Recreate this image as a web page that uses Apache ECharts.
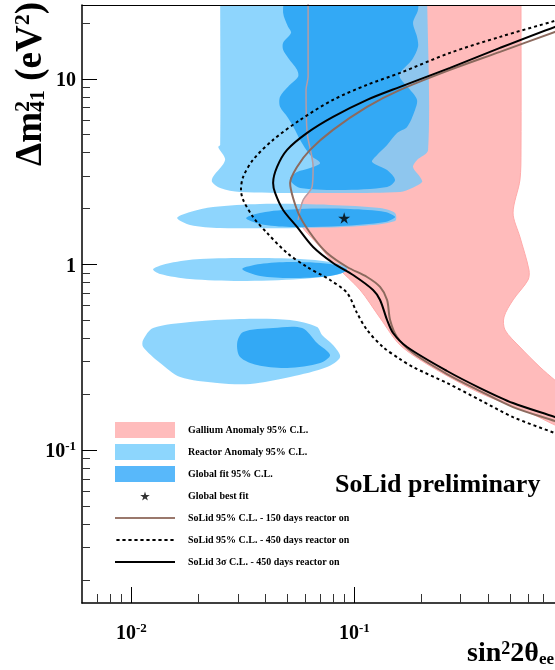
<!DOCTYPE html>
<html><head><meta charset="utf-8">
<script src="https://cdn.jsdelivr.net/npm/echarts@6/dist/echarts.min.js"></script>
<style>html,body{margin:0;padding:0;background:#fff}#c{width:555px;height:670px}</style>
</head><body><div id="c"></div>
<script>
// ---------- axis ticks ----------
const X_MAJOR = [0.01, 0.1];
const X_MINOR = [0.007, 0.008, 0.009, 0.02, 0.03, 0.04, 0.05, 0.06, 0.07, 0.08, 0.09, 0.2, 0.3, 0.4, 0.5, 0.6, 0.7];
const Y_MAJOR = [0.1, 1, 10];
const Y_MINOR = [0.02, 0.03, 0.04, 0.05, 0.06, 0.07, 0.08, 0.09, 0.2, 0.3, 0.4, 0.5, 0.6, 0.7, 0.8, 0.9, 2, 3, 4, 5, 6, 7, 8, 9, 20];

// ---------- legend names ----------
const LEGEND_NAMES = [
  'Gallium Anomaly 95% C.L.',
  'Reactor Anomaly 95% C.L.',
  'Global fit 95% C.L.',
  'Global best fit',
  'SoLid 95% C.L. - 150 days reactor on',
  'SoLid 95% C.L. - 450 days reactor on',
  'SoLid 3\u03c3 C.L. - 450 days reactor on'
];

// ---------- regions [sin^2 2theta, dm^2] ----------
const GALLIUM = [[0.062,40],[0.062,30],[0.062,10.25],[0.0607,8.725],[0.0614,5.116],[0.0653,3.355],[0.0646,2.617],[0.0589,2.227],[0.0559,1.738],
  [0.0702,1.242],[0.0836,0.969],[0.1061,0.729],[0.1304,0.515],[0.1603,0.368],[0.2185,0.284],[0.3662,0.203],[0.6135,0.1583],[0.794,0.1364],[1.0,0.121],
  [1.0,0.19],[0.794,0.238],[0.680,0.280],[0.553,0.359],[0.474,0.4435],[0.469,0.521],[0.515,0.644],[0.601,0.825],[0.607,0.934],[0.553,1.406],[0.515,1.895],[0.553,2.854],[0.559,4.143],[0.559,30],[0.559,40]];

const REACTOR_BAND = [[0.025,40],[0.025,30],[0.025,4.408],[0.0245,4.30],[0.0263,3.66],[0.0232,2.963],[0.0230,2.784],[0.025,2.585],[0.0307,2.459],[0.0702,2.429],[0.1603,2.459],[0.1815,2.585],[0.2012,2.784],[0.197,2.963],[0.1833,3.355],[0.191,3.66],[0.2141,4.143],[0.2119,30],[0.2119,40]];
const REACTOR_C = [[0.01603,1.781],[0.01833,1.919],[0.02324,2.042],[0.0378,2.119],[0.0778,2.094],[0.1304,2.016],[0.1522,1.895],[0.1522,1.716],[0.1061,1.612],[0.0571,1.573],[0.025,1.573],[0.01833,1.633]];
const REACTOR_D = [[0.01251,0.9456],[0.0149,1.019],[0.0203,1.071],[0.0341,1.084],[0.0571,1.071],[0.0778,1.031],[0.0928,0.9574],[0.0863,0.8887],[0.0571,0.835],[0.0307,0.8149],[0.0183,0.835],[0.01345,0.8887]];
const REACTOR_F = [[0.01128,0.3917],[0.01251,0.4546],[0.01833,0.4898],[0.0307,0.5084],[0.0515,0.5021],[0.068,0.4603],[0.0716,0.4168],[0.0802,0.3681],[0.0863,0.3172],[0.0754,0.2801],[0.0515,0.2474],[0.0341,0.2269],[0.0242,0.2297],[0.01654,0.2474],[0.01345,0.2944],[0.01128,0.3591]];

const GLOBAL_BAND = [[0.0489,40],[0.0489,30],[0.0479,22.70],[0.0504,19.07],[0.0520,17.70],[0.0479,15.64],[0.0479,14.33],[0.0504,12.98],[0.0553,11.18],[0.0559,10.25],[0.0504,9.056],[0.0464,7.998],[0.0464,7.065],[0.0504,6.163],[0.0542,5.31],[0.0571,4.691],[0.0633,3.894],[0.0702,3.526],[0.0633,3.313],[0.0553,3.153],[0.0515,2.926],[0.0526,2.750],[0.0571,2.585],[0.0863,2.521],[0.1402,2.617],[0.1522,2.854],[0.1402,3.232],[0.1201,3.570],[0.1264,3.894],[0.1402,4.408],[0.1554,5.116],[0.1723,5.511],[0.1871,6.806],[0.191,7.705],[0.1778,8.725],[0.1603,10.12],[0.1603,10.77],[0.1815,12.66],[0.193,14.88],[0.191,16.84],[0.1833,20.04],[0.193,23.55],[0.193,30],[0.193,40]];
const GLOBAL_B = [[0.03269,1.781],[0.0398,1.919],[0.0571,1.992],[0.0956,1.992],[0.1373,1.919],[0.1522,1.804],[0.1373,1.695],[0.0863,1.612],[0.0515,1.593],[0.0378,1.653]];
const GLOBAL_E = [[0.0314,0.9456],[0.0378,1.006],[0.0515,1.031],[0.0778,1.006],[0.0928,0.9341],[0.0778,0.867],[0.0515,0.8457],[0.0378,0.867]];
const GLOBAL_G = [[0.0298,0.3774],[0.0317,0.4326],[0.0432,0.4546],[0.0583,0.4546],[0.068,0.3774],[0.0778,0.3251],[0.0702,0.2944],[0.0499,0.2767],[0.0366,0.2872],[0.0307,0.3172]];

const BEST_FIT = [[0.09, 1.78]];

// ---------- sensitivity curves ----------
const SOLID_150_95 = [[1.0,19.8],[0.794,17.92],[0.45,13.98],[0.2686,11.18],[0.1603,8.725],[0.114,7.065],[0.0802,5.31],[0.0633,4.143],[0.0553,3.355],[0.0515,2.75],[0.0531,2.283],[0.0571,1.804],[0.0653,1.406],[0.0754,1.153],[0.0928,0.969],[0.114,0.856],[0.1304,0.7565],[0.1402,0.6436],[0.1446,0.5021],[0.1554,0.4066],[0.1833,0.3333],[0.2604,0.2569],[0.3662,0.2080],[0.5148,0.1705],[0.794,0.1433],[1.0,0.1298]];
const SOLID_450_95 = [[1.0,22.2],[0.794,20.54],[0.45,16.84],[0.2686,13.81],[0.1603,10.77],[0.114,9.284],[0.0802,7.705],[0.0571,6.012],[0.0432,4.691],[0.0351,3.66],[0.0317,2.963],[0.031,2.521],[0.0317,2.227],[0.0351,1.804],[0.0406,1.478],[0.0499,1.153],[0.0614,0.969],[0.0778,0.825],[0.0928,0.7022],[0.1028,0.5475],[0.114,0.4435],[0.1345,0.3591],[0.1603,0.309],[0.1833,0.2801],[0.2604,0.2297],[0.3662,0.186],[0.5148,0.1506],[0.794,0.1235],[1.0,0.112]];
const SOLID_450_3S = [[1.0,20.8],[0.794,19.07],[0.45,14.69],[0.2686,11.46],[0.1603,9.056],[0.114,7.705],[0.0802,6.239],[0.0614,5.116],[0.0499,4.143],[0.045,3.355],[0.0432,2.75],[0.0441,2.429],[0.0479,1.967],[0.0553,1.593],[0.0653,1.242],[0.0802,1.019],[0.0987,0.8778],[0.1213,0.7289],[0.1304,0.6436],[0.1402,0.5021],[0.1491,0.4272],[0.1723,0.3591],[0.2604,0.2667],[0.3662,0.2159],[0.5148,0.1792],[0.794,0.1506],[1.0,0.1364]];
const GALLIUM_EDGE = [[0.062,40],[0.062,30],[0.062,10.25],[0.0607,8.725],[0.0614,5.116],[0.0653,3.355],[0.0646,2.617],[0.0589,2.227],[0.0559,1.738]];

// ---------- styling ----------
const SERIF = '"Liberation Serif","Times New Roman",serif';
const PINK = '#ffbbbb', LBLUE = 'rgba(110,201,252,0.78)', DBLUE = '#33a9f5';
const BROWN = '#8c6a5e';
const STAR = 'path://M50,0L61,35L98,35L68,57L79,91L50,70L21,91L32,57L2,35L39,35Z';
const STAR_LEGEND = 'path://M-30,-34.5M130,125.5M50,0L61,35L98,35L68,57L79,91L50,70L21,91L32,57L2,35L39,35Z';
// legend line swatches: 60x16 box, 2px bar in the middle
const LINE_ICON = 'path://M0,-7M0,9M0,0L60,0L60,2L0,2Z';
let dashPath = 'path://M0,-7M0,9';
for (let i = 0; i < 10; i++) { const a = 6 * i, b = a + 3.2; dashPath += 'M' + a + ',0L' + b + ',0L' + b + ',2L' + a + ',2Z'; }
const DASH_ICON = dashPath;

const LABEL_RICH = {
  b: {fontSize: 20, fontWeight: 'bold', fontFamily: SERIF, color: '#000', verticalAlign: 'bottom', padding: [4, 0, 0, 0]},
  s: {fontSize: 13, fontWeight: 'bold', fontFamily: SERIF, color: '#000', verticalAlign: 'top', padding: [2, 0, 0, 0]}
};
function powLabel(v) {
  const e = Math.round(Math.log10(v));
  if (e === 0) return '{b|1}';
  if (e === 1) return '{b|10}';
  return '{b|10}{s|' + e + '}';
}

function polySeries(name, pts, color, z, stroke) {
  return {
    type: 'custom', name: name, coordinateSystem: 'cartesian2d', xAxisIndex: 0, yAxisIndex: 0,
    clip: true, z: z, silent: true, itemStyle: {color: color}, data: [pts[2]],
    renderItem: function (params, api) {
      return {
        type: 'polygon',
        shape: {points: pts.map(function (p) { return api.coord(p); }), smooth: 0.3},
        style: {fill: color, stroke: stroke || null, lineWidth: stroke ? 1 : 0}
      };
    }
  };
}
function lineSeries(name, pts, style, z) {
  return {type: 'line', name: name, data: pts, xAxisIndex: 0, yAxisIndex: 0, symbol: 'none', smooth: 0.3,
    clip: true, silent: true, z: z, lineStyle: style, itemStyle: {color: style.color}};
}

const axisCommon = {type: 'log', logBase: 10, splitLine: {show: false}, z: 10};
const X_MIN = 0.006, X_MAX = 0.7943, Y_MIN = 0.015, Y_MAX = 25;

const option = {
  animation: false,
  backgroundColor: '#fff',
  grid: {left: 82, top: 5, width: 473, height: 598, show: false},
  xAxis: [
    Object.assign({}, axisCommon, {min: X_MIN, max: X_MAX, position: 'bottom',
      axisLine: {show: true, onZero: false, lineStyle: {color: '#000', width: 1.5}},
      axisTick: {show: true, inside: true, length: 16, customValues: X_MAJOR, lineStyle: {color: '#000', width: 1}},
      axisLabel: {show: true, customValues: X_MAJOR, formatter: powLabel, margin: 17, rich: LABEL_RICH}}),
    Object.assign({}, axisCommon, {min: X_MIN, max: X_MAX, position: 'bottom',
      axisLine: {show: false, onZero: false},
      axisTick: {show: true, inside: true, length: 9, customValues: X_MINOR, lineStyle: {color: '#333', width: 1}},
      axisLabel: {show: false}}),
    Object.assign({}, axisCommon, {min: X_MIN, max: X_MAX, position: 'top',
      axisLine: {show: true, onZero: false, lineStyle: {color: '#000', width: 1}},
      axisTick: {show: false}, axisLabel: {show: false}})
  ],
  yAxis: [
    Object.assign({}, axisCommon, {min: Y_MIN, max: Y_MAX, position: 'left',
      axisLine: {show: true, onZero: false, lineStyle: {color: '#000', width: 1.5}},
      axisTick: {show: true, inside: true, length: 15, customValues: Y_MAJOR, lineStyle: {color: '#000', width: 1}},
      axisLabel: {show: true, customValues: Y_MAJOR, formatter: powLabel, margin: 6, rich: LABEL_RICH}}),
    Object.assign({}, axisCommon, {min: Y_MIN, max: Y_MAX, position: 'left',
      axisLine: {show: false, onZero: false},
      axisTick: {show: true, inside: true, length: 8, customValues: Y_MINOR, lineStyle: {color: '#333', width: 1}},
      axisLabel: {show: false}})
  ],
  legend: {
    left: 115, top: 422, orient: 'vertical', itemWidth: 60, itemHeight: 16, itemGap: 6, padding: 0,
    selectedMode: false,
    textStyle: {fontSize: 10, fontWeight: 'bold', fontFamily: SERIF, color: '#000', padding: [0, 0, 0, 8]},
    data: [
      {name: LEGEND_NAMES[0], icon: 'rect', itemStyle: {color: '#ffbcbc'}},
      {name: LEGEND_NAMES[1], icon: 'rect', itemStyle: {color: '#8dd6fd'}},
      {name: LEGEND_NAMES[2], icon: 'rect', itemStyle: {color: '#58b8fa'}},
      {name: LEGEND_NAMES[3], icon: STAR_LEGEND, itemStyle: {color: '#000'}},
      {name: LEGEND_NAMES[4], icon: LINE_ICON, itemStyle: {color: '#9a786c'}},
      {name: LEGEND_NAMES[5], icon: DASH_ICON, itemStyle: {color: '#000'}},
      {name: LEGEND_NAMES[6], icon: LINE_ICON, itemStyle: {color: '#000'}}
    ]
  },
  series: [
    polySeries(LEGEND_NAMES[0], GALLIUM, PINK, 1, '#ffaaaa'),
    polySeries(LEGEND_NAMES[1], REACTOR_BAND, LBLUE, 2),
    polySeries(LEGEND_NAMES[1], REACTOR_C, LBLUE, 2),
    polySeries(LEGEND_NAMES[1], REACTOR_D, LBLUE, 2),
    polySeries(LEGEND_NAMES[1], REACTOR_F, LBLUE, 2),
    polySeries(LEGEND_NAMES[2], GLOBAL_BAND, DBLUE, 3),
    polySeries(LEGEND_NAMES[2], GLOBAL_B, DBLUE, 3),
    polySeries(LEGEND_NAMES[2], GLOBAL_E, DBLUE, 3),
    polySeries(LEGEND_NAMES[2], GLOBAL_G, DBLUE, 3),
    lineSeries('gallium-edge', GALLIUM_EDGE, {color: '#b89ca3', width: 1.5}, 4),
    lineSeries(LEGEND_NAMES[4], SOLID_150_95, {color: BROWN, width: 2}, 5),
    lineSeries(LEGEND_NAMES[5], SOLID_450_95, {color: '#000', width: 2, type: [3, 3]}, 5),
    lineSeries(LEGEND_NAMES[6], SOLID_450_3S, {color: '#000', width: 2}, 5),
    {type: 'scatter', name: LEGEND_NAMES[3], data: BEST_FIT, xAxisIndex: 0, yAxisIndex: 0,
      symbol: STAR, symbolSize: 12, symbolKeepAspect: true, itemStyle: {color: '#000'}, z: 6, silent: true}
  ],
  graphic: [
    {type: 'text', x: 31, y: 166, rotation: Math.PI / 2, z: 20,
      style: {text: '{m|\u0394m}{p|2}{q|41}{m| (eV}{r|2}{m|)}', align: 'left', verticalAlign: 'middle',
        rich: {
          m: {fontSize: 37, fontWeight: 'bold', fontFamily: SERIF, fill: '#000', verticalAlign: 'middle'},
          p: {fontSize: 22, fontWeight: 'bold', fontFamily: SERIF, fill: '#000', verticalAlign: 'top', width: 0},
          q: {fontSize: 22, fontWeight: 'bold', fontFamily: SERIF, fill: '#000', verticalAlign: 'bottom', padding: [4, 0, 0, 0]},
          r: {fontSize: 22, fontWeight: 'bold', fontFamily: SERIF, fill: '#000', verticalAlign: 'top'}
        }}},
    {type: 'text', x: 554, y: 654, z: 20,
      style: {text: '{m|sin}{p|2}{m|2\u03b8}{q|ee}', align: 'right', verticalAlign: 'middle',
        rich: {
          m: {fontSize: 28, fontWeight: 'bold', fontFamily: SERIF, fill: '#000', verticalAlign: 'middle'},
          p: {fontSize: 18, fontWeight: 'bold', fontFamily: SERIF, fill: '#000', verticalAlign: 'top'},
          q: {fontSize: 17, fontWeight: 'bold', fontFamily: SERIF, fill: '#000', verticalAlign: 'bottom'}
        }}},
    {type: 'text', x: 335, y: 485, z: 20,
      style: {text: 'SoLid preliminary', fontSize: 26, fontWeight: 'bold', fontFamily: SERIF, fill: '#000',
        align: 'left', verticalAlign: 'middle'}}
  ]
};

const chart = echarts.init(document.getElementById('c'), null, {renderer: 'canvas'});
chart.setOption(option);
</script></body></html>
